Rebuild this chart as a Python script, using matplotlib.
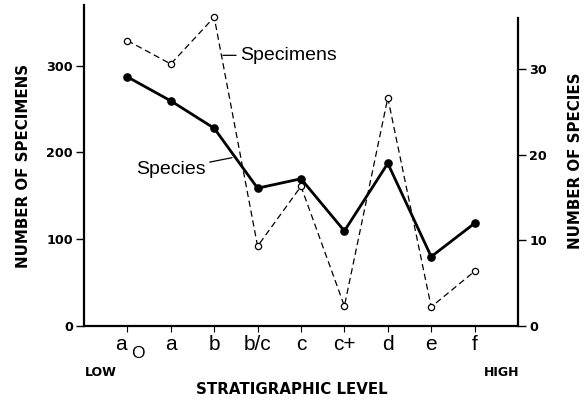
import matplotlib
matplotlib.use("Agg")
import matplotlib.pyplot as plt
import matplotlib.transforms as mtransforms

levels = ["a", "a", "b", "b/c", "c", "c+", "d", "e", "f"]
level_subscripts = ["O", "", "", "", "", "", "", "", ""]
specimens = [329, 302, 356, 92, 161, 23, 263, 22, 63]
species = [29.1, 26.3, 23.1, 16.1, 17.2, 11.1, 19.0, 8.1, 12.0]
left_ticks = [0, 100, 200, 300]
right_ticks = [0, 10, 20, 30]

plt.rcParams['font.family'] = ['Liberation Sans', 'DejaVu Sans']
BOLD = 'DejaVu Sans'

fig = plt.figure(figsize=(5.85, 4.01), dpi=100)
ax = fig.add_axes([84/585, 1-326/401, (518-84)/585, (326-5)/401])
ax2 = ax.twinx()

x = list(range(len(levels)))
ax.plot(x, specimens, linestyle=(0, (5, 3)), color='black', lw=0.9,
        marker='o', markersize=4.5, markerfacecolor='white', markeredgewidth=0.9, zorder=2)
ax2.plot(x, species, color='black', lw=2.0, marker='o', markersize=5.2, zorder=3)

ax.set_xlim(-1, len(levels))
ax.set_ylim(0, 370)
ax2.set_ylim(0, 37.5)

for a in (ax, ax2):
    a.spines['top'].set_visible(False)
ax.spines['right'].set_visible(False)
ax2.spines['left'].set_visible(False)
ax2.spines['bottom'].set_visible(False)
ax2.spines['right'].set_bounds(0, 36)
ax.spines['left'].set_linewidth(1.6)
ax.spines['bottom'].set_linewidth(1.6)
ax2.spines['right'].set_linewidth(1.6)

ax.set_yticks(left_ticks)
ax.set_yticklabels([str(t) for t in left_ticks], fontweight='bold', fontsize=9.2, family=BOLD)
ax2.set_yticks(right_ticks)
ax2.set_yticklabels([str(t) for t in right_ticks], fontweight='bold', fontsize=9.2, family=BOLD)
ax.tick_params(axis='y', length=6, width=1, pad=2)
ax2.tick_params(axis='y', length=6, width=1, pad=2)

ax.set_xticks(x)
ax.set_xticklabels([])
ax.tick_params(axis='x', length=4, width=0.8)

# category labels (drawn as text so the subscript O can be full size)
trans = mtransforms.blended_transform_factory(ax.transData, fig.transFigure)
for i, (lab, sub) in enumerate(zip(levels, level_subscripts)):
    if sub:
        ax.text(i - 0.02, 1-345/401, lab, transform=trans, ha='right', va='center', fontsize=15)
        ax.text(i + 0.08, 1-353/401, sub, transform=trans, ha='left', va='center', fontsize=12.5)
    else:
        ax.text(i, 1-345/401, lab, transform=trans, ha='center', va='center', fontsize=15)

fig.text(24/585, 1-166/401, "NUMBER OF SPECIMENS", fontweight='bold', fontsize=10.8, family=BOLD,
         rotation=90, ha='center', va='center')
fig.text(575/585, 1-161/401, "NUMBER OF SPECIES", fontweight='bold', fontsize=10.8, family=BOLD,
         rotation=90, ha='center', va='center')

fig.text(101/585, 1-372/401, "LOW", fontweight='bold', fontsize=9, family=BOLD, ha='center', va='center')
fig.text(502/585, 1-372/401, "HIGH", fontweight='bold', fontsize=9, family=BOLD, ha='center', va='center')
fig.text(292/585, 1-390/401, "STRATIGRAPHIC LEVEL", fontweight='bold', fontsize=10.8, family=BOLD,
         ha='center', va='center')

ax.annotate("Specimens", xy=(2.2, 312), xytext=(2.6, 312), fontsize=14,
            ha='left', va='center',
            arrowprops=dict(arrowstyle='-', color='black', lw=0.9, shrinkA=1, shrinkB=0))
ax.annotate("Species", xy=(2.41, 194), xytext=(1.8, 180), fontsize=14,
            ha='right', va='center',
            arrowprops=dict(arrowstyle='-', color='black', lw=0.9, shrinkA=1, shrinkB=0))

fig.savefig("out.png", dpi=100)
